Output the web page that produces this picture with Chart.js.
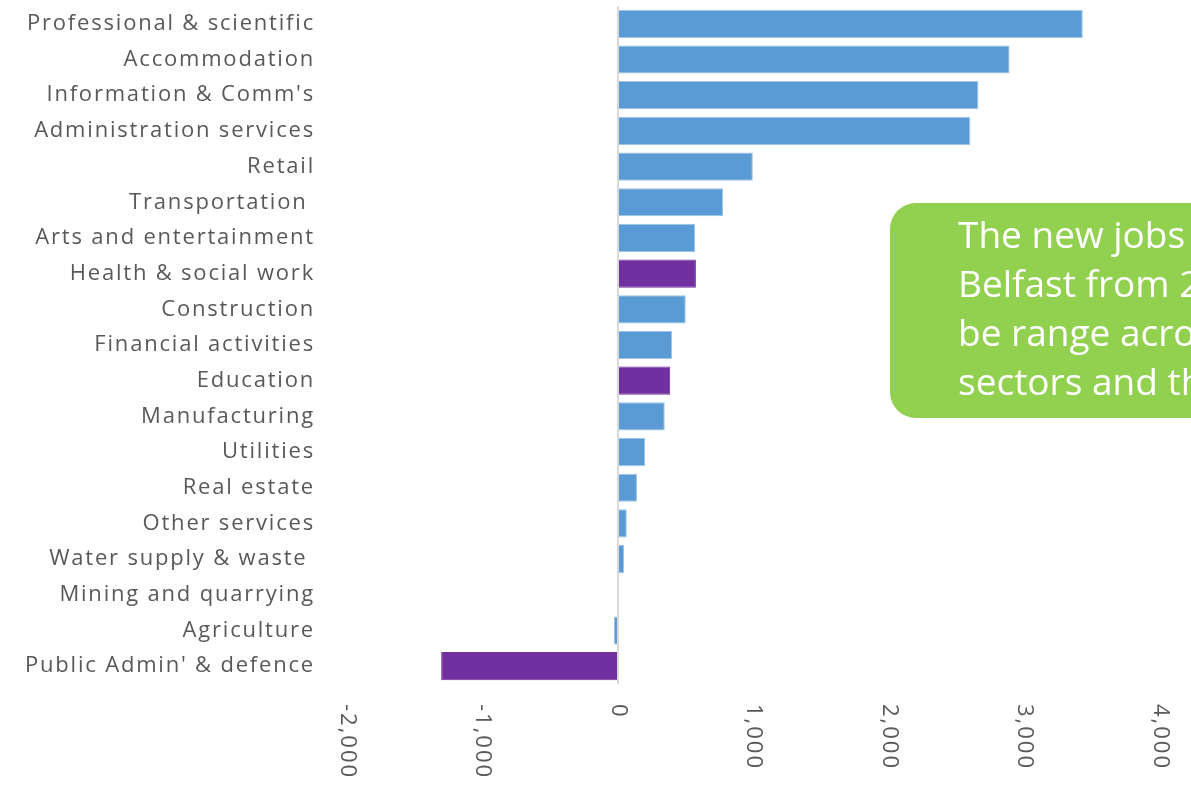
<!DOCTYPE html>
<html>
<head>
<meta charset="utf-8">
<script src="https://cdn.jsdelivr.net/npm/chart.js@4"></script>
<style>
  html, body { margin: 0; padding: 0; background: #fff; overflow: hidden; }
  #wrap { position: relative; width: 1191px; height: 787px; overflow: hidden; }
  #note {
    position: absolute; left: 890px; top: 203px; width: 420px; height: 215px;
    background: #92d050; border-radius: 26px; color: #fff;
    font-family: "Open Sans", sans-serif; font-size: 37px; line-height: 49px;
    box-sizing: border-box; padding: 6px 0 0 68px; white-space: nowrap;
  }
</style>
</head>
<body>
<div id="wrap">
  <canvas id="chart" width="1191" height="787"></canvas>
  <div id="note">The new jobs<br>Belfast from 2<br>be range acro<br>sectors and th</div>
</div>
<script>
const sectors = [
  "Professional & scientific", "Accommodation", "Information & Comm's",
  "Administration services", "Retail", "Transportation ", "Arts and entertainment",
  "Health & social work", "Construction", "Financial activities", "Education",
  "Manufacturing", "Utilities", "Real estate", "Other services",
  "Water supply & waste ", "Mining and quarrying", "Agriculture", "Public Admin' & defence"
];
const newJobs = [3430, 2890, 2660, 2600, 995, 775, 570, 575, 500, 400, 385,
  345, 200, 140, 65, 45, 8, -30, -1305];
const highlighted = ["Health & social work", "Education", "Public Admin' & defence"];
const xTicks = [-2000, -1000, 0, 1000, 2000, 3000, 4000];

const barColors = sectors.map((s, i) =>
  highlighted.includes(s) ? "#7030a0" : (Math.abs(newJobs[i]) < 10 ? "#d6dce5" : "#5b9bd5"));
const borderColors = sectors.map((s, i) =>
  highlighted.includes(s) ? "#7030a0" : (Math.abs(newJobs[i]) < 10 ? "#d6dce5" : "#9dc3e6"));

// wide letter spacing like the original's labels
const spacing = {
  id: "spacing",
  beforeDraw(chart) { chart.ctx.letterSpacing = "1.8px"; }
};

// rotated x tick labels, reading top to bottom
const tickLabels = {
  id: "tickLabels",
  afterDraw(chart) {
    const ctx = chart.ctx;
    const x = chart.scales.x;
    ctx.save();
    ctx.letterSpacing = "2px";
    ctx.fillStyle = "#595959";
    ctx.font = "22px 'Open Sans', sans-serif";
    ctx.textAlign = "left";
    ctx.textBaseline = "middle";
    xTicks.forEach((v) => {
      ctx.save();
      ctx.translate(x.getPixelForValue(v), chart.chartArea.bottom + 20);
      ctx.rotate(Math.PI / 2);
      ctx.fillText(v.toLocaleString("en-US"), 0, 0);
      ctx.restore();
    });
    ctx.restore();
  }
};

new Chart("chart", {
  type: "bar",
  data: {
    labels: sectors,
    datasets: [{
      data: newJobs,
      backgroundColor: barColors,
      borderColor: borderColors,
      borderWidth: 1,
      categoryPercentage: 0.79,
      barPercentage: 1.0,
    }]
  },
  options: {
    indexAxis: "y",
    responsive: false,
    animation: false,
    layout: { padding: { left: 0, right: 31, top: 6, bottom: 103 } },
    plugins: { legend: { display: false }, tooltip: { enabled: false } },
    scales: {
      x: {
        min: -2000, max: 4000,
        ticks: { display: false, stepSize: 1000 },
        border: { display: false },
        grid: {
          drawTicks: false,
          lineWidth: 2,
          color: (c) => (c.tick && c.tick.value === 0 ? "#d9d9d9" : "rgba(0,0,0,0)"),
        },
      },
      y: {
        afterFit: (scale) => {
          scale.width = 347;
          // tick padding would otherwise push the plot down
          scale.paddingTop = 0;
          scale.paddingBottom = 0;
        },
        border: { display: false },
        grid: { display: false, drawTicks: false },
        ticks: {
          color: "#595959",
          padding: 32,
          font: { family: "'Open Sans', sans-serif", size: 22 },
        },
      },
    },
  },
  plugins: [spacing, tickLabels],
});
</script>
</body>
</html>
